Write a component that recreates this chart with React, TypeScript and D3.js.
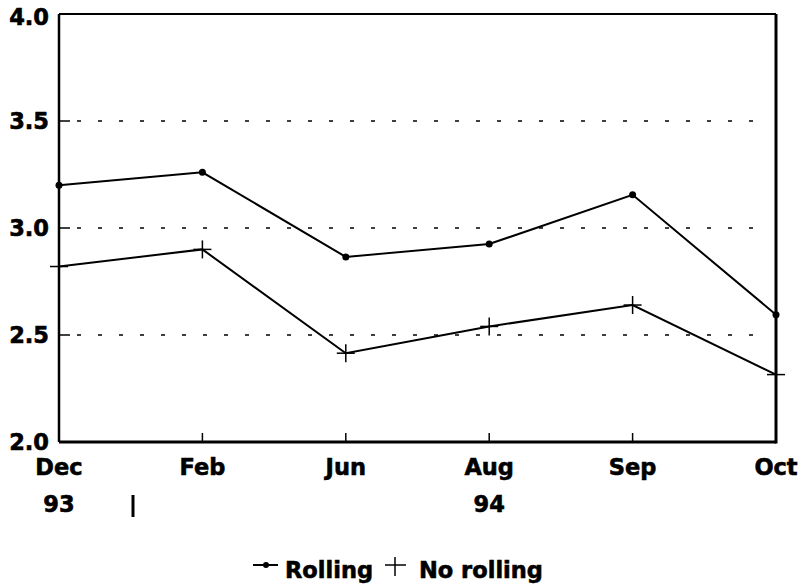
import React from "react";
import * as d3 from "d3";

const months = ["Dec", "Feb", "Jun", "Aug", "Sep", "Oct"];
const rolling = [3.2, 3.26, 2.865, 2.925, 3.155, 2.595];
const noRolling = [2.82, 2.9, 2.415, 2.54, 2.64, 2.315];
const yTicks = [2.0, 2.5, 3.0, 3.5, 4.0];
const gridTicks = [2.5, 3.0, 3.5];
const yearLabels = [
  { month: "Dec", label: "93" },
  { month: "Aug", label: "94" },
];

const W = 801;
const H = 588;
const left = 59;
const right = 776;
const top = 14;
const bottom = 442;

export default function App() {
  const x = d3.scalePoint<string>().domain(months).range([left, right]);
  const y = d3.scaleLinear().domain([2, 4]).range([bottom, top]);
  const line = d3
    .line<number>()
    .x((_, i) => x(months[i]) as number)
    .y((d) => y(d));
  const font = "'DejaVu Sans', Verdana, sans-serif";
  const fs = 22.5;
  const txt = { fontFamily: font, fontWeight: "bold" as const, fontSize: fs, stroke: "#000", strokeWidth: 0.6 };

  return (
    <svg
      width={W}
      height={H}
      style={{ position: "absolute", left: 0, top: 0, background: "#fff" }}
    >
      {/* grid */}
      {gridTicks.map((t) => (
        <line
          key={"g" + t}
          x1={left}
          x2={right - 10}
          y1={y(t)}
          y2={y(t)}
          stroke="#000"
          strokeWidth={1.5}
          strokeDasharray="4,17"
          strokeDashoffset={-18}
        />
      ))}
      {/* y ticks */}
      {yTicks.map((t) => (
        <line key={"yt" + t} x1={left} x2={left + 11} y1={y(t)} y2={y(t)} stroke="#000" strokeWidth={1.5} />
      ))}
      {/* x ticks */}
      {months.slice(1, -1).map((m) => (
        <line key={"xt" + m} x1={x(m)} x2={x(m)} y1={bottom} y2={bottom - 9} stroke="#000" strokeWidth={1.5} />
      ))}
      {/* frame */}
      <line x1={left} x2={right} y1={top} y2={top} stroke="#000" strokeWidth={2} />
      <line x1={left} x2={right} y1={bottom} y2={bottom} stroke="#000" strokeWidth={3} />
      <line x1={left} x2={left} y1={top} y2={bottom} stroke="#000" strokeWidth={2.5} />
      <line x1={right} x2={right} y1={top} y2={bottom + 1.5} stroke="#000" strokeWidth={3} />

      {/* y labels */}
      {yTicks.map((t) => (
        <text
          key={"yl" + t}
          x={49}
          y={y(t) + (t === 4 ? 3 : 0)}
          textAnchor="end"
          dominantBaseline="central"
          {...txt}
        >
          {t.toFixed(1)}
        </text>
      ))}
      {/* x labels */}
      {months.map((m) => (
        <text key={"xl" + m} x={x(m)} y={475} textAnchor="middle" {...txt}>
          {m}
        </text>
      ))}
      {yearLabels.map((d) => (
        <text key={"yr" + d.label} x={x(d.month)} y={512} textAnchor="middle" {...txt}>
          {d.label}
        </text>
      ))}
      <line x1={133} x2={133} y1={495} y2={517} stroke="#000" strokeWidth={3} />

      {/* series */}
      <path d={line(rolling) || ""} fill="none" stroke="#000" strokeWidth={2} />
      <path d={line(noRolling) || ""} fill="none" stroke="#000" strokeWidth={2} />
      {rolling.map((v, i) => (
        <circle key={"r" + i} cx={x(months[i])} cy={y(v)} r={3.5} fill="#000" />
      ))}
      {noRolling.map((v, i) => {
        const cx = x(months[i]) as number;
        const cy = y(v);
        return (
          <g key={"n" + i}>
            <line x1={cx - 9} x2={cx + 9} y1={cy} y2={cy} stroke="#000" strokeWidth={1.5} />
            <line x1={cx} x2={cx} y1={cy - 9} y2={cy + 9} stroke="#000" strokeWidth={1.5} />
          </g>
        );
      })}

      {/* legend */}
      <line x1={253} x2={278} y1={565} y2={565} stroke="#000" strokeWidth={2} />
      <circle cx={266} cy={565} r={3} fill="#000" />
      <text x={285} y={578} {...txt}>
        Rolling
      </text>
      <line x1={385} x2={406} y1={565} y2={565} stroke="#000" strokeWidth={1.5} />
      <line x1={395} x2={395} y1={557} y2={576} stroke="#000" strokeWidth={1.5} />
      <text x={419} y={578} {...txt}>
        No rolling
      </text>
    </svg>
  );
}
